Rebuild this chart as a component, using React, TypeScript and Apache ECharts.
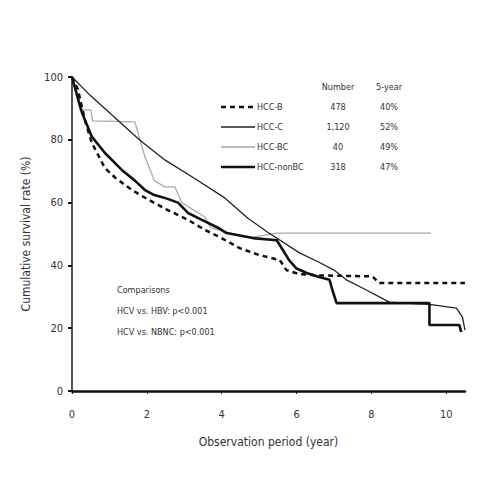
import React, { useEffect, useRef } from "react";
import * as echarts from "echarts";

const FONT = "'Liberation Sans Narrow', 'DejaVu Sans Condensed', 'Arial Narrow', sans-serif";

const seriesNames = ["HCC-B", "HCC-C", "HCC-BC", "HCC-nonBC"];
const numbers = ["478", "1,120", "40", "318"];
const fiveYear = ["40%", "52%", "49%", "47%"];
const comparisonLines = ["Comparisons", "HCV vs. HBV: p<0.001", "HCV vs. NBNC: p<0.001"];
const xTicks = [0, 2, 4, 6, 8, 10];

const hccB: [number, number][] = [
  [0, 100], [0.16, 96], [0.35, 86], [0.53, 79], [0.88, 71], [1.15, 68], [1.6, 64], [2.03, 61],
  [2.56, 57.6], [3.1, 54.5], [3.55, 51.3], [3.95, 49], [4.48, 45.5], [5.0, 43.3], [5.55, 41.7],
  [5.73, 38.5], [6.08, 37.2], [6.6, 36.8], [8.03, 36.5], [8.2, 34.4], [10.5, 34.4],
];
const hccC: [number, number][] = [
  [0, 100], [0.5, 94], [1.15, 87], [1.8, 80], [2.48, 73.6], [3.3, 67.5], [4.08, 61.5], [4.7, 55],
  [5.2, 50.8], [6.08, 44], [6.6, 41], [7.0, 38.5], [7.33, 35.4], [7.76, 32.8], [8.48, 28.3],
  [8.93, 28], [9.55, 27.6], [10.27, 26.4], [10.43, 23.6], [10.5, 19.4],
];
const hccBC: [number, number][] = [
  [0, 100], [0.21, 89.5], [0.5, 89.5], [0.55, 86], [1.68, 85.7], [1.95, 74.5], [2.2, 67],
  [2.48, 65], [2.75, 65], [2.93, 60], [3.55, 55.4], [3.7, 52], [4.3, 50], [4.83, 49],
  [5.47, 50.3], [9.6, 50.3],
];
const hccNonBC: [number, number][] = [
  [0, 100], [0.27, 88.5], [0.53, 81], [0.88, 75.8], [1.33, 70.4], [1.68, 67], [1.95, 64],
  [2.2, 62.4], [2.48, 61.5], [2.83, 60], [3.1, 56.7], [3.47, 54.5], [3.9, 52], [4.13, 50.3],
  [4.83, 48.7], [5.47, 48], [5.63, 45], [5.8, 41.7], [6.0, 39], [6.27, 37.6], [6.6, 36.3],
  [6.88, 35.4], [6.96, 32], [7.07, 28], [9.55, 28], [9.55, 21], [10.35, 21], [10.4, 18.8],
];

const seriesData = [hccB, hccC, hccBC, hccNonBC];
const seriesStyles = [
  { color: "#111", width: 2.5, type: [5, 4] as any },
  { color: "#222", width: 1.3, type: "solid" as any },
  { color: "#aaa", width: 1.3, type: "solid" as any },
  { color: "#111", width: 2.6, type: "solid" as any },
];

export default function App() {
  const ref = useRef<HTMLDivElement>(null);
  useEffect(() => {
    if (!ref.current) return;
    document.body.style.margin = "0";
    const chart = echarts.init(ref.current, null, { renderer: "svg" });
    const textStyle = { fontFamily: FONT, fontSize: 9, fill: "#333" };
    const graphics: any[] = [];
    graphics.push({ type: "text", x: 338, y: 87, style: { ...textStyle, text: "Number", align: "center", verticalAlign: "middle" } });
    graphics.push({ type: "text", x: 389, y: 87, style: { ...textStyle, text: "5-year", align: "center", verticalAlign: "middle" } });
    seriesNames.forEach((n, i) => {
      const y = 107 + i * 20;
      const st = seriesStyles[i];
      graphics.push({
        type: "line",
        shape: { x1: 221, y1: y, x2: 255, y2: y },
        style: { stroke: st.color, lineWidth: st.width, lineDash: Array.isArray(st.type) ? st.type : null },
      });
      graphics.push({ type: "text", x: 257, y: y, style: { ...textStyle, text: n, verticalAlign: "middle" } });
      graphics.push({ type: "text", x: 338, y: y, style: { ...textStyle, text: numbers[i], align: "center", verticalAlign: "middle" } });
      graphics.push({ type: "text", x: 389, y: y, style: { ...textStyle, text: fiveYear[i], align: "center", verticalAlign: "middle" } });
    });
    comparisonLines.forEach((t, i) => {
      graphics.push({ type: "text", x: 117, y: 290 + i * 21, style: { ...textStyle, text: t, verticalAlign: "middle" } });
    });

    chart.setOption({
      animation: false,
      backgroundColor: "#fff",
      grid: { left: 72, right: 35, top: 77, bottom: 109 },
      xAxis: {
        type: "value",
        min: 0,
        max: 10.5,
        interval: 2,
        name: "Observation period (year)",
        nameLocation: "middle",
        nameGap: 45,
        nameTextStyle: { fontFamily: FONT, fontSize: 12, color: "#333" },
        axisLine: { lineStyle: { color: "#111", width: 2.5 } },
        axisTick: { show: true, length: 3, lineStyle: { color: "#111" } },
        axisLabel: {
          fontFamily: FONT, fontSize: 11, color: "#333", margin: 18, showMaxLabel: false,
          formatter: (v: number) => (xTicks.includes(v) ? String(v) : ""),
        },
        splitLine: { show: false },
      },
      yAxis: {
        type: "value",
        min: 0,
        max: 100,
        interval: 20,
        name: "Cumulative survival rate (%)",
        nameLocation: "middle",
        nameGap: 40,
        nameTextStyle: { fontFamily: FONT, fontSize: 12, color: "#333" },
        axisLine: { show: true, lineStyle: { color: "#555", width: 2 } },
        axisTick: { show: true, length: 4, lineStyle: { color: "#111", width: 2 } },
        axisLabel: { fontFamily: FONT, fontSize: 11, color: "#333", margin: 9 },
        splitLine: { show: false },
      },
      series: seriesNames.map((n, i) => ({
        name: n,
        type: "line",
        data: seriesData[i],
        showSymbol: false,
        symbol: "none",
        lineStyle: seriesStyles[i],
        itemStyle: { color: seriesStyles[i].color },
        z: i === 2 ? 1 : 2,
      })),
      graphic: graphics,
    });
    return () => chart.dispose();
  }, []);
  return <div ref={ref} style={{ width: 500, height: 500 }} />;
}
